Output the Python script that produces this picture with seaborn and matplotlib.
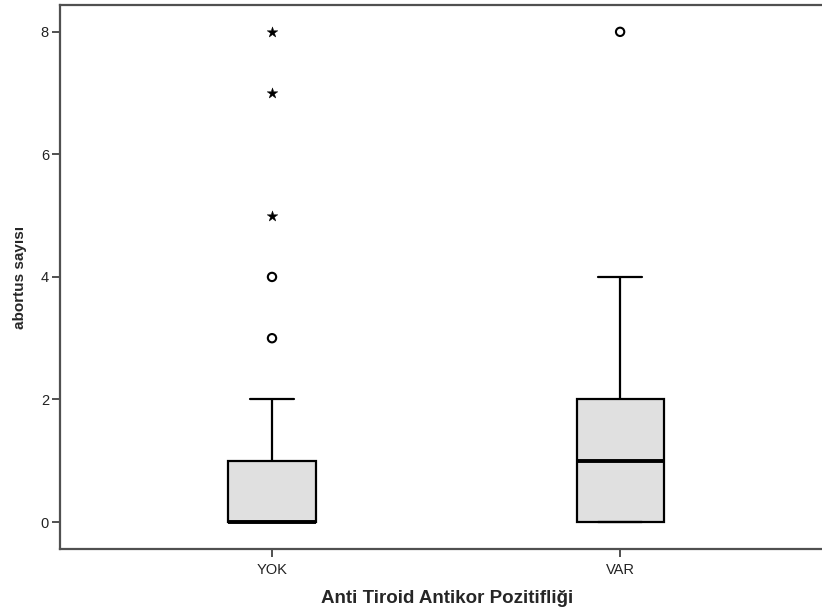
import numpy as np
import pandas as pd
import matplotlib
matplotlib.use("Agg")
import matplotlib.pyplot as plt
import seaborn as sns

# Number of abortions per patient, tallied by antibody status
abortus_levels = [0, 1, 2, 3, 4, 5, 6, 7, 8]
yok_counts = [30, 12, 5, 2, 2, 2, 0, 1, 1]
var_counts = [8, 6, 6, 2, 2, 0, 0, 0, 1]
groups = ["YOK", "VAR"]

x_label = "Anti Tiroid Antikor Pozitifliği"
y_label = "abortus sayısı"
y_ticks = [0, 2, 4, 6, 8]

sns.set_theme(style="white")
plt.rcParams["font.family"] = ["Liberation Sans", "DejaVu Sans"]

df = pd.DataFrame({
    "grup": np.concatenate([np.repeat(g, c) for g, c in
                            zip(groups, [sum(yok_counts), sum(var_counts)])]),
    "abortus": np.concatenate([np.repeat(abortus_levels, yok_counts),
                               np.repeat(abortus_levels, var_counts)]),
})

fig = plt.figure(figsize=(8.22, 6.10), dpi=100)
ax = fig.add_axes([0.073, 0.100, 0.927, 0.892])

line_kw = dict(color="black", linewidth=1.6)
sns.boxplot(data=df, x="grup", y="abortus", order=groups, width=0.25,
            color="#e0e0e0", linewidth=1.6, showfliers=False,
            boxprops=dict(edgecolor="black", facecolor="#e0e0e0"),
            whiskerprops=line_kw, capprops=line_kw,
            medianprops=dict(color="black", linewidth=2.8), ax=ax)

# Outliers (beyond 1.5 IQR) as circles, extremes (beyond 3 IQR) as stars
out_rows = []
for i, g in enumerate(groups):
    vals = df.loc[df["grup"] == g, "abortus"].to_numpy()
    q1, q3 = np.percentile(vals, [25, 75])
    iqr = q3 - q1
    for v in np.unique(vals):
        if v > q3 + 3 * iqr:
            out_rows.append((g, v, "extreme"))
        elif v > q3 + 1.5 * iqr:
            out_rows.append((g, v, "outlier"))
out_df = pd.DataFrame(out_rows, columns=["grup", "abortus", "tip"])

sns.scatterplot(data=out_df[out_df["tip"] == "outlier"], x="grup", y="abortus",
                marker="o", s=36, facecolor="none", edgecolor="black",
                linewidth=1.5, ax=ax, legend=False, zorder=5)
sns.scatterplot(data=out_df[out_df["tip"] == "extreme"], x="grup", y="abortus",
                marker="*", s=65, color="black", edgecolor="black",
                linewidth=0.3, ax=ax, legend=False, zorder=5)

ax.set_xlim(-0.609, 1.58)
ax.set_ylim(-0.44, 8.44)
ax.set_yticks(y_ticks)
ax.set_yticklabels([str(t) for t in y_ticks])

for side in ["left", "bottom", "top"]:
    ax.spines[side].set_color("#505050")
    ax.spines[side].set_linewidth(1.6)
ax.spines["right"].set_visible(False)

ax.tick_params(axis="both", which="both", direction="out", length=6,
               width=1.4, color="#505050", labelsize=10.5, labelcolor="#222222",
               left=True, bottom=True)
ax.tick_params(axis="x", pad=4)
ax.tick_params(axis="y", pad=2)

ax.set_xlabel(x_label, fontsize=13.5, fontweight="bold", labelpad=9)
ax.xaxis.set_label_coords(0.508, -0.075)
ax.set_ylabel(y_label, fontsize=11, fontweight="bold", labelpad=10)
ax.grid(False)

fig.savefig("out.png", dpi=100)
